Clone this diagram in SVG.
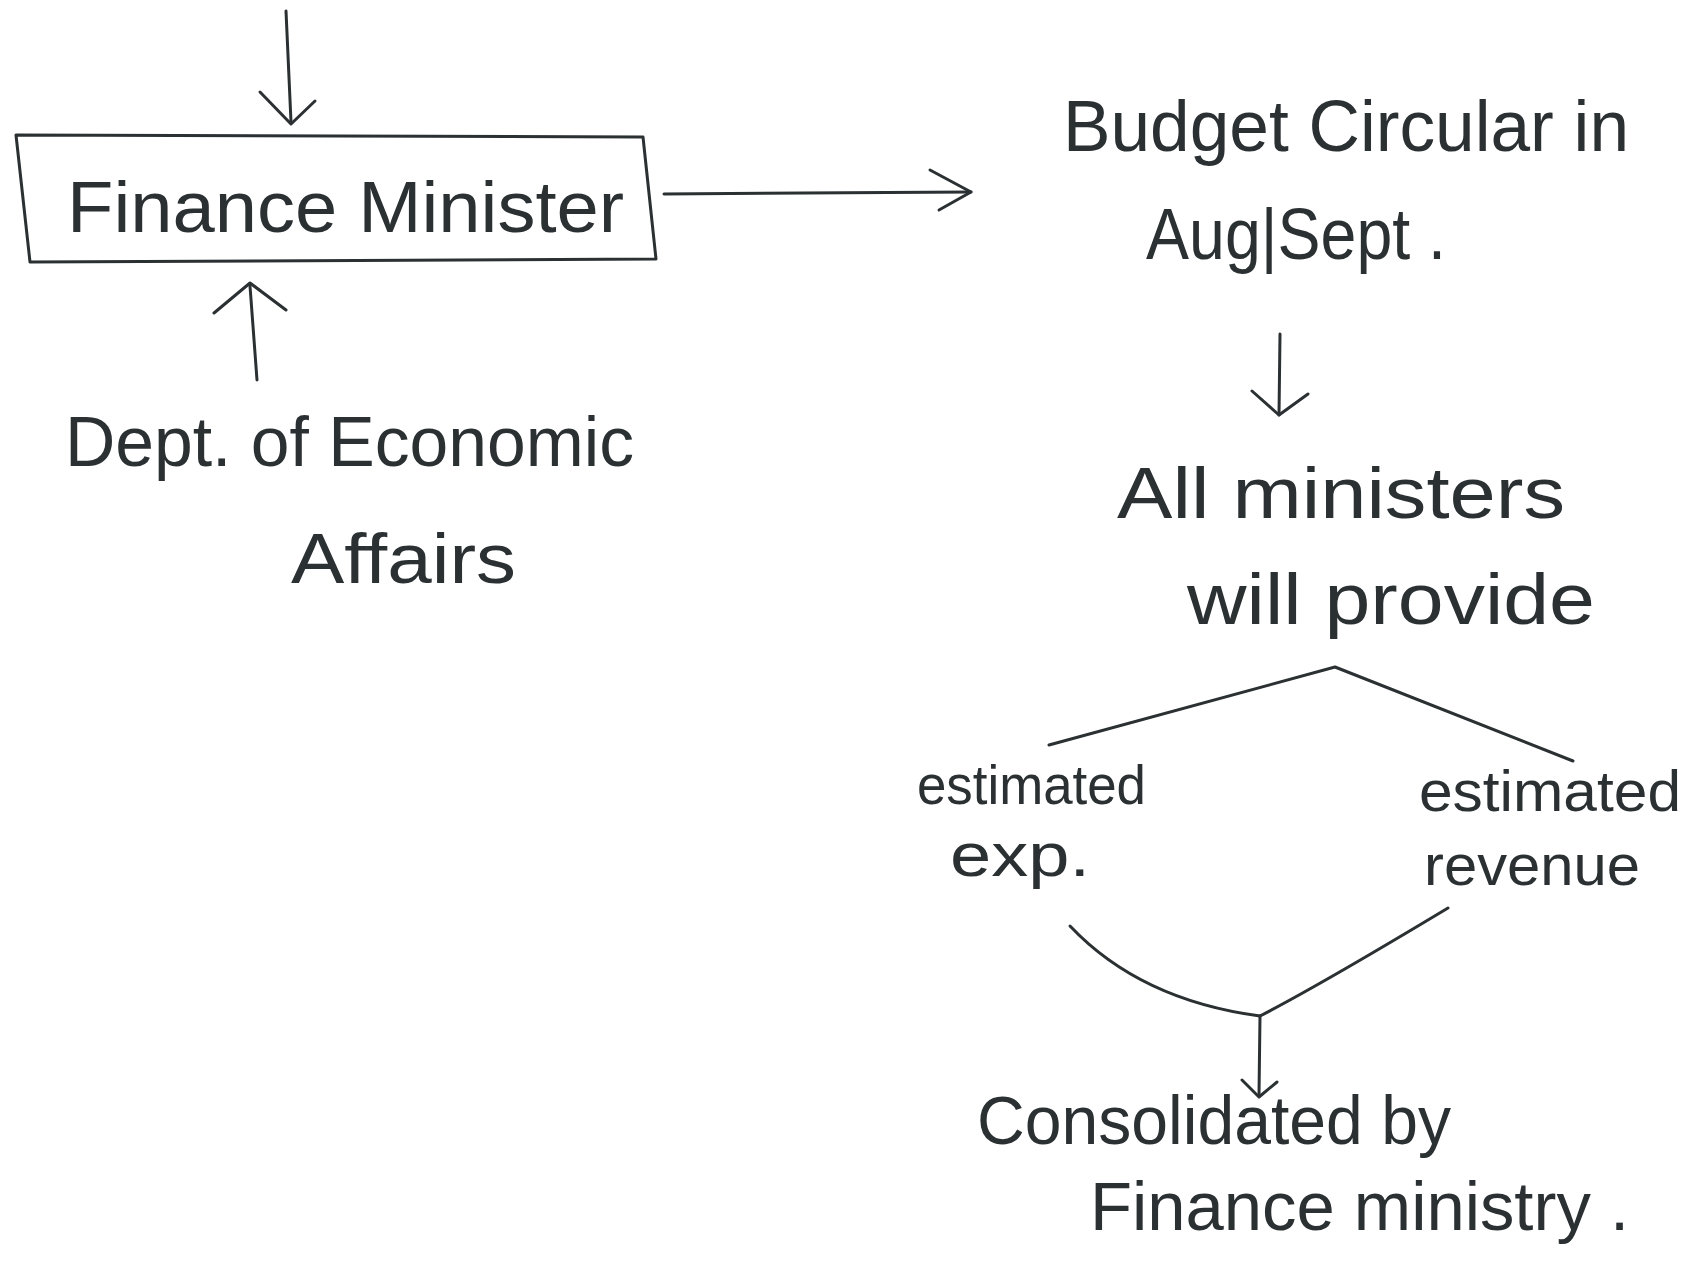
<svg xmlns="http://www.w3.org/2000/svg" width="1692" height="1263" viewBox="0 0 1692 1263">
<style>
.t{font-family:"Liberation Sans","DejaVu Sans",sans-serif;fill:#2b3033;font-weight:normal}
.s{fill:none;stroke:#2b3033;stroke-width:3;stroke-linecap:round;stroke-linejoin:round}
</style>
<rect width="1692" height="1263" fill="#ffffff"/>
<g id="connectors" class="s">
  <path d="M286 11 L291 122"/><path d="M260 92 L291 124 L315 101"/>
  <path d="M664 194 L971 192"/><path d="M930 170 L971 192 L939 210"/>
  <path d="M257 380 L250 286"/><path d="M214 313 L250 283 L286 310"/>
  <path d="M1280 334 L1279 415"/><path d="M1252 391 L1279 415 L1308 394"/>
  <path d="M1049 745 L1335 667 L1573 761"/>
  <path d="M1070 926 Q1140 1000 1260 1016"/>
  <path d="M1448 908 Q1320 985 1260 1016"/>
  <path d="M1260 1016 L1259 1095"/><path d="M1242 1080 L1259 1097 L1277 1082"/>
</g>
<g id="finance-minister">
  <path class="s" d="M16 135 L643 137 L656 259 L30 262 Z"/>
  <text class="t" x="67" y="232" font-size="72" textLength="557" lengthAdjust="spacingAndGlyphs">Finance Minister</text>
</g>
<g id="dept-economic-affairs">
  <text class="t" x="65" y="466" font-size="70" textLength="569" lengthAdjust="spacingAndGlyphs">Dept. of Economic</text>
  <text class="t" x="291" y="583" font-size="70" textLength="225" lengthAdjust="spacingAndGlyphs">Affairs</text>
</g>
<g id="budget-circular">
  <text class="t" x="1063" y="151" font-size="72" textLength="566" lengthAdjust="spacingAndGlyphs">Budget Circular in</text>
  <text class="t" x="1146" y="259" font-size="72" textLength="300" lengthAdjust="spacingAndGlyphs">Aug|Sept .</text>
</g>
<g id="all-ministers">
  <text class="t" x="1117" y="518" font-size="72" textLength="448" lengthAdjust="spacingAndGlyphs">All ministers</text>
  <text class="t" x="1187" y="624" font-size="72" textLength="408" lengthAdjust="spacingAndGlyphs">will provide</text>
</g>
<g id="estimated-exp">
  <text class="t" x="917" y="804" font-size="56" textLength="229" lengthAdjust="spacingAndGlyphs">estimated</text>
  <text class="t" x="950" y="876" font-size="62" textLength="140" lengthAdjust="spacingAndGlyphs">exp.</text>
</g>
<g id="estimated-revenue">
  <text class="t" x="1419" y="811" font-size="58" textLength="262" lengthAdjust="spacingAndGlyphs">estimated</text>
  <text class="t" x="1424" y="885" font-size="58" textLength="216" lengthAdjust="spacingAndGlyphs">revenue</text>
</g>
<g id="consolidated">
  <text class="t" x="977" y="1144" font-size="68" textLength="474" lengthAdjust="spacingAndGlyphs">Consolidated by</text>
  <text class="t" x="1090" y="1230" font-size="68" textLength="539" lengthAdjust="spacingAndGlyphs">Finance ministry .</text>
</g>
</svg>
